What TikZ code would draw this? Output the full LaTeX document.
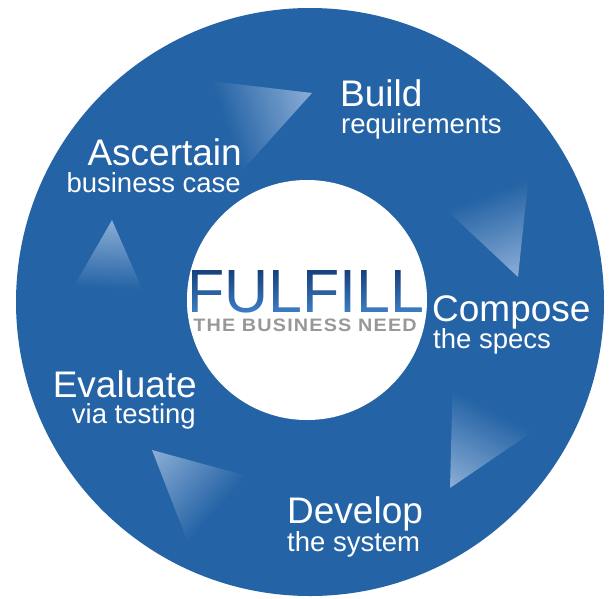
\documentclass[tikz,border=0pt]{standalone}
\usepackage{fontspec}
\setmainfont{Liberation Sans}
\definecolor{ring}{RGB}{36,99,165}
\definecolor{tiplight}{RGB}{140,174,214}
\definecolor{fultop}{RGB}{18,58,115}
\definecolor{fulscreen}{RGB}{47,88,151}
\definecolor{needgray}{RGB}{152,152,152}
\tikzset{
  steptitle/.style={inner sep=0pt, text=white, font=\fontsize{37}{40}\selectfont},
  stepsub/.style={inner sep=0pt, text=white, font=\fontsize{27.5}{30}\selectfont},
  fulfont/.style={inner sep=0pt, font=\fontsize{61}{66}\selectfont},
  needfont/.style={inner sep=0pt, text=needgray, font=\bfseries\fontsize{18}{20}\selectfont\addfontfeature{LetterSpace=6}},
  tipshade/.style={bottom color=ring, top color=tiplight},
}
\begin{document}
\begin{tikzpicture}[x=1pt,y=1pt]
\useasboundingbox (0,0) rectangle (613,-598);
\fill[white] (0,0) rectangle (613,-598);
% ring
\fill[ring] (310,-302) circle (294);
\fill[white] (307,-300) circle (120);

% arrow triangles (light at the tip, fading into the ring at the base)
\begin{scope}
  \clip (312,-93) -- (185,-78) -- (240,-173) -- cycle;
  \shade[tipshade, transform canvas={shift={(212.5,-125.5)}, rotate=-71.9}] (-150,12) rectangle (150,105);
\end{scope}
\begin{scope}
  \clip (518,-277) -- (530,-163) -- (438,-202) -- cycle;
  \shade[tipshade, transform canvas={shift={(484,-182.5)}, rotate=-160.2}] (-150,12) rectangle (150,100);
\end{scope}
\begin{scope}
  \clip (450,-488) -- (453,-372) -- (541,-426) -- cycle;
  \shade[tipshade, transform canvas={shift={(497,-399)}, rotate=152.2}] (-150,12) rectangle (150,100);
\end{scope}
\begin{scope}
  \clip (152,-450) -- (262,-480) -- (192,-553) -- cycle;
  \shade[tipshade, transform canvas={shift={(227,-516.5)}, rotate=48.4}] (-150,12) rectangle (150,100);
\end{scope}
\begin{scope}
  \clip (112,-220) -- (70,-293) -- (147,-300) -- cycle;
  \shade[tipshade, transform canvas={shift={(108.5,-296.5)}, rotate=-2.6}] (-150,8) rectangle (150,77);
\end{scope}

% step labels
\node[steptitle, anchor=base west] (buildT) at (340,-106) {Build};
\node[stepsub, anchor=base west] (buildS) at (341,-133.5) {requirements};
\node[steptitle, anchor=base east] (ascT) at (242,-165) {Ascertain};
\node[stepsub, anchor=base east] (ascS) at (241,-192) {business case};
\node[steptitle, anchor=base west] (compT) at (432,-321) {Compose};
\node[stepsub, anchor=base west] (compS) at (433,-348.5) {the specs};
\node[steptitle, anchor=base east] (evalT) at (197,-397) {Evaluate};
\node[stepsub, anchor=base east] (evalS) at (196,-423) {via testing};
\node[steptitle, anchor=base west] (devT) at (287,-523) {Develop};
\node[stepsub, anchor=base west] (devS) at (287,-551) {the system};

% centre title: dark text, lightened towards the bottom with a screen blend
\node[fulfont, text=fultop, anchor=base] (ful) at (306,-312) {FULFILL};
\begin{scope}
  \clip (307,-300) circle (120);
  \shade[blend mode=screen, top color=black, bottom color=fulscreen] (150,-266) rectangle (470,-313);
\end{scope}
\node[needfont, anchor=base] (need) at (305,-331) {\scalebox{1.1}[1]{THE BUSINESS NEED}};
\end{tikzpicture}
\end{document}
